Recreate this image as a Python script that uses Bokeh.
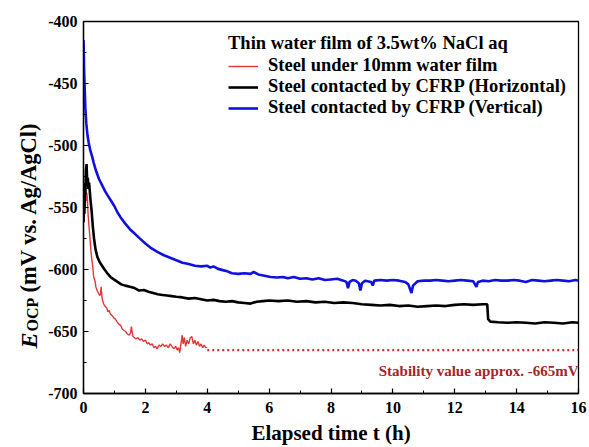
import math
from bokeh.plotting import figure
from bokeh.models import Label, Legend, LegendItem, FixedTicker, Range1d
from bokeh.embed import file_html
from bokeh.resources import INLINE

# ---------------- data ----------------
red_t = [0.0, 0.02, 0.04, 0.06, 0.08, 0.10, 0.12, 0.15, 0.18, 0.21, 0.23, 0.26, 0.30, 0.33,
         0.37, 0.40, 0.44, 0.48, 0.52, 0.55, 0.57, 0.60, 0.64, 0.68, 0.71, 0.75, 0.79, 0.83,
         0.87, 0.92, 0.98, 1.03, 1.08, 1.14, 1.20, 1.25, 1.30, 1.36, 1.42, 1.48, 1.52, 1.55,
         1.57, 1.60, 1.65, 1.70, 1.76, 1.82, 1.88, 1.94, 2.00, 2.06, 2.11, 2.16, 2.22, 2.28,
         2.33, 2.38, 2.44, 2.50, 2.56, 2.62, 2.68, 2.74, 2.80, 2.86, 2.92, 2.98, 3.03, 3.07,
         3.11, 3.15, 3.19, 3.22, 3.26, 3.30, 3.35, 3.40, 3.45, 3.50, 3.55, 3.60, 3.65, 3.70,
         3.75, 3.80, 3.85, 3.90, 3.95, 4.00]
red_v = [-560, -538, -548, -533, -545, -538, -541, -556, -566, -575, -582, -590, -598, -606,
         -609, -614, -617, -619, -621, -620, -614, -623, -627, -629, -630, -631, -634, -633,
         -636, -637, -639, -640, -642, -644, -645, -648, -649, -650, -652, -653, -651, -646,
         -650, -654, -655, -656, -655, -657, -656, -658, -657, -660, -659, -661, -660, -663,
         -662, -664, -661, -662, -660, -662, -661, -663, -660, -662, -664, -662, -665, -663,
         -667, -660, -653, -660, -655, -662, -657, -660, -655, -654, -660, -657, -661, -658,
         -662, -660, -663, -661, -663, -663]

black_t = [0.0, 0.02, 0.03, 0.05, 0.06, 0.08, 0.10, 0.12, 0.14, 0.16, 0.18, 0.20, 0.23, 0.26,
           0.30, 0.34, 0.39, 0.45, 0.52, 0.60, 0.68, 0.77, 0.87, 0.98, 1.10, 1.22, 1.35, 1.50,
           1.65, 1.80, 1.95, 2.10, 2.25, 2.40, 2.55, 2.70, 2.85, 3.00, 3.20, 3.40, 3.60, 3.80,
           4.00, 4.20, 4.40, 4.60, 4.80, 5.00, 5.20, 5.40, 5.60, 5.80, 6.00, 6.30, 6.60, 6.90,
           7.20, 7.50, 7.80, 8.10, 8.40, 8.70, 9.00, 9.30, 9.60, 9.90, 10.20, 10.50, 10.80,
           11.10, 11.40, 11.70, 12.00, 12.30, 12.60, 12.90, 13.05, 13.08, 13.15, 13.40, 13.70,
           14.00, 14.30, 14.60, 14.90, 15.20, 15.50, 15.80, 16.00]
black_v = [-562, -545, -555, -530, -540, -520, -515, -530, -526, -535, -530, -536, -545, -552,
           -565, -575, -584, -590, -594, -597, -600, -603, -606, -608, -610, -612, -613, -614,
           -615, -617, -616.5, -618, -619, -620, -620.5, -621, -621.5, -622, -622.5, -623.5,
           -623, -624, -625, -624.5, -625.5, -626, -625.5, -626.5, -627, -627.5, -626, -625.5,
           -625, -625.5, -625, -626, -625.5, -626.5, -626, -627, -626.5, -627, -628, -628.5,
           -629, -628.5, -629.5, -629, -630, -629.5, -629, -629.5, -628.5, -628, -628.5, -628,
           -628, -640, -642, -642.5, -643, -642.5, -643, -643.5, -642.5, -643, -643.5, -642.5,
           -643]

blue_t = [0.00, 0.01, 0.02, 0.04, 0.06, 0.09, 0.13, 0.17, 0.22, 0.28, 0.33, 0.40, 0.50, 0.60,
          0.70, 0.80, 0.90, 1.00, 1.10, 1.20, 1.35, 1.50, 1.65, 1.80, 2.00, 2.20, 2.40, 2.60,
          2.80, 3.00, 3.20, 3.40, 3.60, 3.80, 4.00, 4.10, 4.20, 4.35, 4.50, 4.65, 4.80, 5.00,
          5.20, 5.40, 5.50, 5.65, 5.85, 6.05, 6.25, 6.45, 6.60, 6.80, 7.00, 7.20, 7.40, 7.60,
          7.80, 8.00, 8.20, 8.40, 8.50, 8.55, 8.60, 8.70, 8.80, 8.90, 8.95, 9.00, 9.10, 9.30,
          9.35, 9.40, 9.60, 9.80, 10.00, 10.20, 10.40, 10.50, 10.60, 10.65, 10.80, 11.00,
          11.20, 11.40, 11.60, 11.80, 12.00, 12.20, 12.40, 12.60, 12.70, 12.75, 12.90, 13.10,
          13.30, 13.50, 13.70, 13.90, 14.10, 14.30, 14.50, 14.70, 14.90, 15.10, 15.30, 15.50,
          15.70, 15.90, 16.00]
blue_v = [-415, -425, -440, -455, -470, -482, -492, -498, -504, -509, -514, -520, -527, -532,
          -537, -541, -545, -549, -554, -558, -563, -567.5, -571, -574.5, -579, -583, -586,
          -588.5, -590.5, -592.5, -594.5, -595.5, -597, -597.5, -597, -598.5, -597.5, -599.5,
          -600.5, -601.5, -603, -603.5, -603, -603.5, -602, -604, -605, -606, -606.5, -606,
          -607, -606, -607.5, -607, -608, -607, -608.5, -608, -607.5, -609, -610, -615, -610,
          -608.5, -609, -611, -617, -611, -609, -610, -613, -609, -608.5, -609, -608.5, -609,
          -610, -612, -619, -613, -609.5, -609, -609, -608.5, -609, -609.5, -609, -608.5,
          -609, -609.5, -614, -610, -609, -609.5, -608.5, -609, -609, -608.5, -609, -610,
          -608.5, -609, -609.5, -609, -608.5, -609, -609.5, -608.5, -609]

stable_t = [4.0, 16.0]
stable_v = [-665, -665]

x_ticks = [0, 2, 4, 6, 8, 10, 12, 14, 16]
x_tick_labels = ["0", "2", "4", "6", "8", "10", "12", "14", "16"]
y_ticks = [-700, -650, -600, -550, -500, -450, -400]
y_tick_labels = ["-700", "-650", "-600", "-550", "-500", "-450", "-400"]

legend_title = "Thin water film of 3.5wt% NaCl aq"
series_names = ["Steel under 10mm water film",
                "Steel contacted by CFRP (Horizontal)",
                "Steel contacted by CFRP (Vertical)"]
note_text = "Stability value approx. -665mV"
x_title = "Elapsed time t (h)"
y_title_main = "E"
y_title_sub = "OCP"
y_title_rest = "(mV vs. Ag/AgCl)"

FONT = "Liberation Serif"

# ---------------- figure ----------------
W, H = 589, 447
BL, BR, BT, BB = 83, 11, 21, 54
p = figure(width=W, height=H, x_range=Range1d(0, 16), y_range=Range1d(-700, -400),
           output_backend="svg", toolbar_location=None,
           min_border_left=BL, min_border_right=BR, min_border_top=BT, min_border_bottom=BB)
p.xgrid.visible = False
p.ygrid.visible = False
p.outline_line_color = "black"
p.outline_line_width = 1.3
p.background_fill_color = "white"
p.border_fill_color = "white"

p.xaxis.ticker = FixedTicker(ticks=x_ticks, minor_ticks=[1, 3, 5, 7, 9, 11, 13, 15])
p.yaxis.ticker = FixedTicker(ticks=y_ticks,
                             minor_ticks=[-675, -625, -575, -525, -475, -425])
p.xaxis.major_label_overrides = dict(zip(x_ticks, x_tick_labels))
p.yaxis.major_label_overrides = dict(zip(y_ticks, y_tick_labels))
for ax in (p.xaxis, p.yaxis):
    ax.major_tick_in = 5
    ax.major_tick_out = 0
    ax.minor_tick_in = 3
    ax.minor_tick_out = 0
    ax.axis_line_width = 1.3
    ax.major_tick_line_width = 1.2
    ax.minor_tick_line_width = 1.0
    ax.major_label_text_font = FONT
    ax.major_label_text_font_style = "bold"
    ax.major_label_text_font_size = "16px"
    ax.major_label_text_color = "black"
p.yaxis.major_label_standoff = 6
p.xaxis.major_label_standoff = 8

# ---------------- data lines ----------------
r_red = p.line(red_t, red_v, line_color="#e0383a", line_width=1.4)
p.line(stable_t, stable_v, line_color="#d4282c", line_width=2.2, line_dash="2 3")
r_black = p.line(black_t, black_v, line_color="black", line_width=2.6)
r_blue = p.line(blue_t, blue_v, line_color="#1010e0", line_width=2.6)

legend = Legend(items=[LegendItem(label=series_names[0], renderers=[r_red]),
                       LegendItem(label=series_names[1], renderers=[r_black]),
                       LegendItem(label=series_names[2], renderers=[r_blue])],
                title=legend_title, location=(145, 275))
legend.title_text_font = FONT
legend.title_text_font_style = "bold"
legend.title_text_font_size = "18.5px"
legend.title_text_color = "black"
legend.label_text_font = FONT
legend.label_text_font_style = "bold"
legend.label_text_font_size = "18.5px"
legend.label_text_color = "black"
legend.border_line_color = None
legend.background_fill_alpha = 0
legend.glyph_width = 30
legend.label_standoff = 10
legend.label_height = 16
legend.glyph_height = 16
legend.spacing = 0
legend.padding = 5
legend.margin = 0
legend.title_standoff = 1
p.add_layout(legend)

# ---------------- helpers: canvas px -> data ----------------
fx0, fx1 = BL, W - BR
fy0, fy1 = BT, H - BB
def dx(px):
    return (px - fx0) / (fx1 - fx0) * 16.0
def dy(py):
    return -400.0 - (py - fy0) / (fy1 - fy0) * 300.0

# stability annotation (inside the frame)
p.add_layout(Label(x=16, y=dy(370), text=note_text, text_align="right",
                   text_baseline="middle", text_font=FONT, text_font_style="bold",
                   text_font_size="15px", text_color="#a3262a"))

# x axis title (side panel below the frame)
p.add_layout(Label(x=8, y=dy(432), text=x_title, text_align="center",
                   text_baseline="alphabetic", text_font=FONT, text_font_style="bold",
                   text_font_size="21px", text_color="black"), "below")

# y axis title: E (italic) + OCP (subscript) + rest, rotated
ang = math.pi / 2
p.add_layout(Label(x=dx(28), y=dy(348), text=y_title_main, angle=ang, text_align="left",
                   text_baseline="alphabetic", text_font=FONT,
                   text_font_style="bold italic", text_font_size="24px",
                   text_color="black"), "above")
p.add_layout(Label(x=dx(32), y=dy(331), text=y_title_sub, angle=ang, text_align="left",
                   text_baseline="alphabetic", text_font=FONT, text_font_style="bold",
                   text_font_size="16px", text_color="black"), "left")
p.add_layout(Label(x=dx(28), y=dy(292), text=y_title_rest, angle=ang,
                   text_align="left", text_baseline="alphabetic", text_font=FONT,
                   text_font_style="bold", text_font_size="22.5px",
                   text_color="black"), "left")

open("out.html", "w").write(file_html(p, INLINE))
